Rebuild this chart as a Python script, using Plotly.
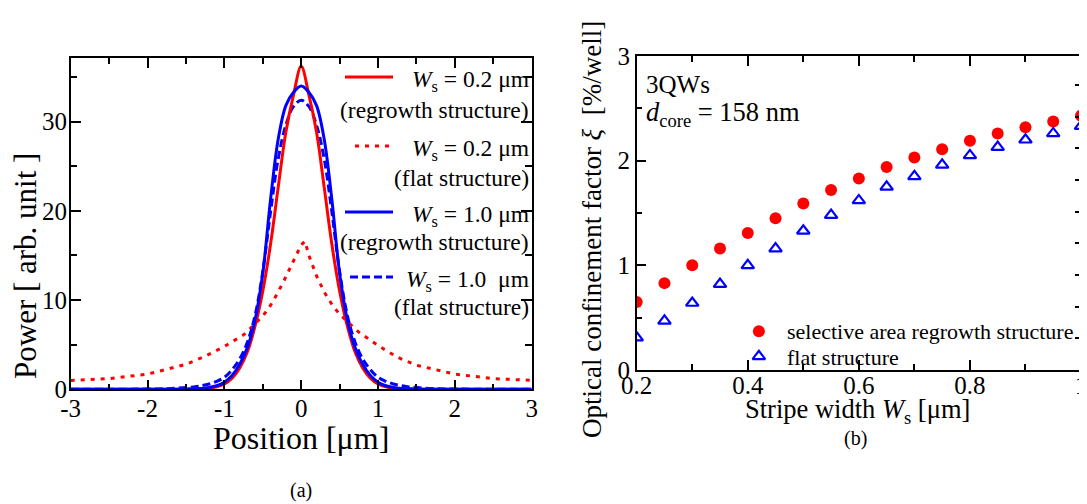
import plotly.graph_objects as go

# ---- panel (a): mode power profiles ----
pos_grid = [-3.0, -2.5, -2.0, -1.8, -1.6, -1.4, -1.3, -1.2, -1.1, -1.0, -0.9, -0.8, -0.7,
            -0.6, -0.5, -0.4, -0.3, -0.2, -0.1, 0.0, 0.1, 0.2, 0.3, 0.4, 0.5, 0.6, 0.7,
            0.8, 0.9, 1.0, 1.1, 1.2, 1.3, 1.4, 1.6, 1.8, 2.0, 2.5, 3.0]

p_02_regrowth = [0, 0, 0, 0, 0, 0.02, 0.05, 0.12, 0.28, 0.6, 1.25, 2.4, 4.2,
                 7.1, 11.0, 16.2, 22.6, 28.8, 33.0, 36.2, 33.0, 28.8, 22.6, 16.2, 11.0, 7.1, 4.2,
                 2.4, 1.25, 0.6, 0.28, 0.12, 0.05, 0.02, 0, 0, 0, 0, 0]

p_10_regrowth = [0, 0, 0, 0, 0.01, 0.05, 0.1, 0.2, 0.4, 0.8, 1.55, 2.8, 4.7,
                 7.8, 13.0, 21.2, 28.0, 31.8, 33.3, 34.0, 33.3, 31.8, 28.0, 21.2, 13.0, 7.8, 4.7,
                 2.8, 1.55, 0.8, 0.4, 0.2, 0.1, 0.05, 0.01, 0, 0, 0, 0]

p_10_flat = [0, 0, 0.03, 0.06, 0.13, 0.27, 0.4, 0.6, 0.9, 1.35, 2.2, 3.4, 5.3,
             8.3, 13.2, 19.8, 25.8, 29.6, 31.7, 32.4, 31.7, 29.6, 25.8, 19.8, 13.2, 8.3, 5.3,
             3.4, 2.2, 1.35, 0.9, 0.6, 0.4, 0.27, 0.13, 0.06, 0.03, 0, 0]

pos_flat02 = [-3.0, -2.5, -2.0, -1.5, -1.25, -1.0, -0.75, -0.5, -0.4, -0.3, -0.2, -0.1, 0.0,
              0.05, 0.1, 0.2, 0.3, 0.4, 0.5, 0.75, 1.0, 1.25, 1.5, 2.0, 2.5, 3.0]
p_02_flat = [1.0, 1.2, 1.7, 2.8, 3.7, 4.8, 6.1, 8.2, 9.4, 10.9, 12.6, 14.5, 16.2,
             16.6, 15.0, 12.7, 10.9, 9.5, 8.4, 6.4, 4.9, 3.6, 2.7, 1.7, 1.2, 1.0]
xticks_a = [-3, -2, -1, 0, 1, 2, 3]
xtick_text_a = ['-3', '-2', '-1', '0', '1', '2', '3']

# ---- panel (b): confinement factor vs stripe width ----
stripe_w = [0.2, 0.25, 0.3, 0.35, 0.4, 0.45, 0.5, 0.55, 0.6, 0.65, 0.7, 0.75, 0.8,
            0.85, 0.9, 0.95, 1.0]
xi_regrowth = [0.65, 0.83, 1.0, 1.16, 1.31, 1.45, 1.59, 1.72, 1.83, 1.94, 2.03, 2.11, 2.19,
               2.26, 2.32, 2.375, 2.43]
xi_flat = [0.31, 0.47, 0.64, 0.82, 1.0, 1.16, 1.33, 1.48, 1.62, 1.75, 1.85, 1.96, 2.05,
           2.13, 2.20, 2.26, 2.33]
xticks_b = [0.2, 0.4, 0.6, 0.8, 1.0]
xtick_text_b = ['0.2', '0.4', '0.6', '0.8', '1']

RED = '#ff0000'
BLUE = '#0000ff'
FONT = 'Liberation Serif'
W, H = 1087, 504
OFF = 8  # the page body adds an 8px margin around the plot


def px(x):
    return (x - OFF) / W


def py(y):
    return 1 - (y - OFF) / H


fig = go.Figure()

fig.add_trace(go.Scatter(x=pos_flat02, y=p_02_flat, mode='lines',
                         line=dict(color=RED, width=3, dash='4px,6px'), xaxis='x', yaxis='y'))
fig.add_trace(go.Scatter(x=pos_grid, y=p_10_flat, mode='lines', line_shape='spline',
                         line=dict(color=BLUE, width=3, dash='8px,4px'), xaxis='x', yaxis='y'))
fig.add_trace(go.Scatter(x=pos_grid, y=p_02_regrowth, mode='lines', line_shape='spline',
                         line=dict(color=RED, width=3), xaxis='x', yaxis='y'))
fig.add_trace(go.Scatter(x=pos_grid, y=p_10_regrowth, mode='lines', line_shape='spline',
                         line=dict(color=BLUE, width=3), xaxis='x', yaxis='y'))

fig.add_trace(go.Scatter(x=stripe_w, y=xi_regrowth, mode='markers',
                         marker=dict(color=RED, size=12, symbol='circle'), xaxis='x2', yaxis='y2'))
fig.add_trace(go.Scatter(x=stripe_w, y=xi_flat, mode='markers',
                         marker=dict(color=BLUE, size=11, symbol='triangle-up-open',
                                     line=dict(width=2.2, color=BLUE)), xaxis='x2', yaxis='y2'))
# dummy trace so the right-hand frame axis of panel (b) is drawn
fig.add_trace(go.Scatter(x=[None], y=[None], xaxis='x2', yaxis='y3', hoverinfo='skip'))

axis_common = dict(showline=True, linecolor='black', linewidth=1.5, ticks='inside',
                   tickcolor='black', tickwidth=1.5, showgrid=False, zeroline=False,
                   automargin=False, tickfont=dict(family=FONT, size=25, color='black'))

fig.update_layout(
    width=W, height=H, margin=dict(l=0, r=0, t=0, b=0),
    paper_bgcolor='white', plot_bgcolor='white', showlegend=False,
    font=dict(family=FONT, color='black'),
    xaxis=dict(axis_common, domain=[px(70.7), px(531.7)], range=[-3, 3],
               tickvals=xticks_a, ticktext=xtick_text_a, ticklabelstandoff=-4,
               ticklen=10, mirror='ticks', anchor='y',
               minor=dict(dtick=0.5, ticks='inside', ticklen=6, tickcolor='black', tickwidth=1.5)),
    yaxis=dict(axis_common, domain=[py(389.3), py(58.3)], range=[0, 37.1], dtick=10,
               ticklen=11, mirror='ticks', anchor='x', ticklabelstandoff=-3,
               minor=dict(dtick=5, ticks='inside', ticklen=7, tickcolor='black', tickwidth=1.5)),
    xaxis2=dict(axis_common, domain=[px(636.7), px(1081)], range=[0.2, 1.0],
                tickvals=xticks_b, ticktext=xtick_text_b, ticklen=10, mirror='ticks', anchor='y2',
                ticklabelstandoff=-8,
                minor=dict(dtick=0.1, ticks='inside', ticklen=6, tickcolor='black', tickwidth=1.5)),
    yaxis2=dict(axis_common, domain=[py(370), py(56)], range=[0, 3], dtick=1,
                ticklen=10, anchor='x2',
                minor=dict(dtick=0.5, ticks='inside', ticklen=6, tickcolor='black', tickwidth=1.5)),
    yaxis3=dict(axis_common, overlaying='y2', side='right', anchor='x2', range=[0, 9.92],
                dtick=1, ticklen=6, showticklabels=False),
)

ann = []


def text(x, y, s, size, xanchor='left', angle=0):
    ann.append(dict(x=px(x), y=py(y), xref='paper', yref='paper', text=s, showarrow=False,
                    xanchor=xanchor, yanchor='middle', textangle=angle,
                    font=dict(family=FONT, size=size, color='black')))


# legend of panel (a)
leg = [
    ('<i>W</i><sub>s</sub> = 0.2 μm', '(regrowth structure)', 77, 110),
    ('<i>W</i><sub>s</sub> = 0.2 μm', '(flat structure)', 146, 178),
    ('<i>W</i><sub>s</sub> = 1.0 μm', '(regrowth structure)', 212, 242),
    ('<i>W</i><sub>s</sub> = 1.0\u00a0\u00a0μm', '(flat structure)', 277, 307),
]
for l1, l2, y1, y2 in leg:
    text(531, y1 + 4, l1, 23.5, xanchor='right')
    text(531, y2, l2, 23.5, xanchor='right')

styles = [(RED, 'solid', 345), (RED, '4px,6px', 355), (BLUE, 'solid', 345), (BLUE, '8px,4px', 350)]
for (col, dash, x0), (_, _, y1, _) in zip(styles, leg):
    fig.add_shape(type='line', xref='paper', yref='paper', x0=px(x0), x1=px(393),
                  y0=py(y1), y1=py(y1), line=dict(color=col, width=3, dash=dash))

text(25, 266, 'Power [ arb. unit ]', 31, xanchor='center', angle=-90)
text(301, 438, 'Position [μm]', 32, xanchor='center')
text(301, 490, '(a)', 20, xanchor='center')

# panel (b) texts
text(644, 84, '3QWs', 25)
text(644, 114, '<i>d</i><sub>core</sub> = 158 nm', 26.5)
text(592, 230, 'Optical confinement factor <i>ξ</i>\u00a0\u00a0[%/well]', 27, xanchor='center', angle=-90)
text(857, 411, 'Stripe width <i>W</i><sub>s</sub> [μm]', 26.5, xanchor='center')
text(855, 438, '(b)', 20, xanchor='center')

text(785, 331, 'selective area regrowth structure', 22)
text(785, 357, 'flat structure', 22)
fig.add_trace(go.Scatter(x=[0.42], y=[0.37], mode='markers',
                         marker=dict(color=RED, size=12), xaxis='x2', yaxis='y2'))
fig.add_trace(go.Scatter(x=[0.42], y=[0.13], mode='markers',
                         marker=dict(color=BLUE, size=11, symbol='triangle-up-open',
                                     line=dict(width=2.2, color=BLUE)), xaxis='x2', yaxis='y2'))

fig.update_layout(annotations=ann)
fig.write_html("out.html")
